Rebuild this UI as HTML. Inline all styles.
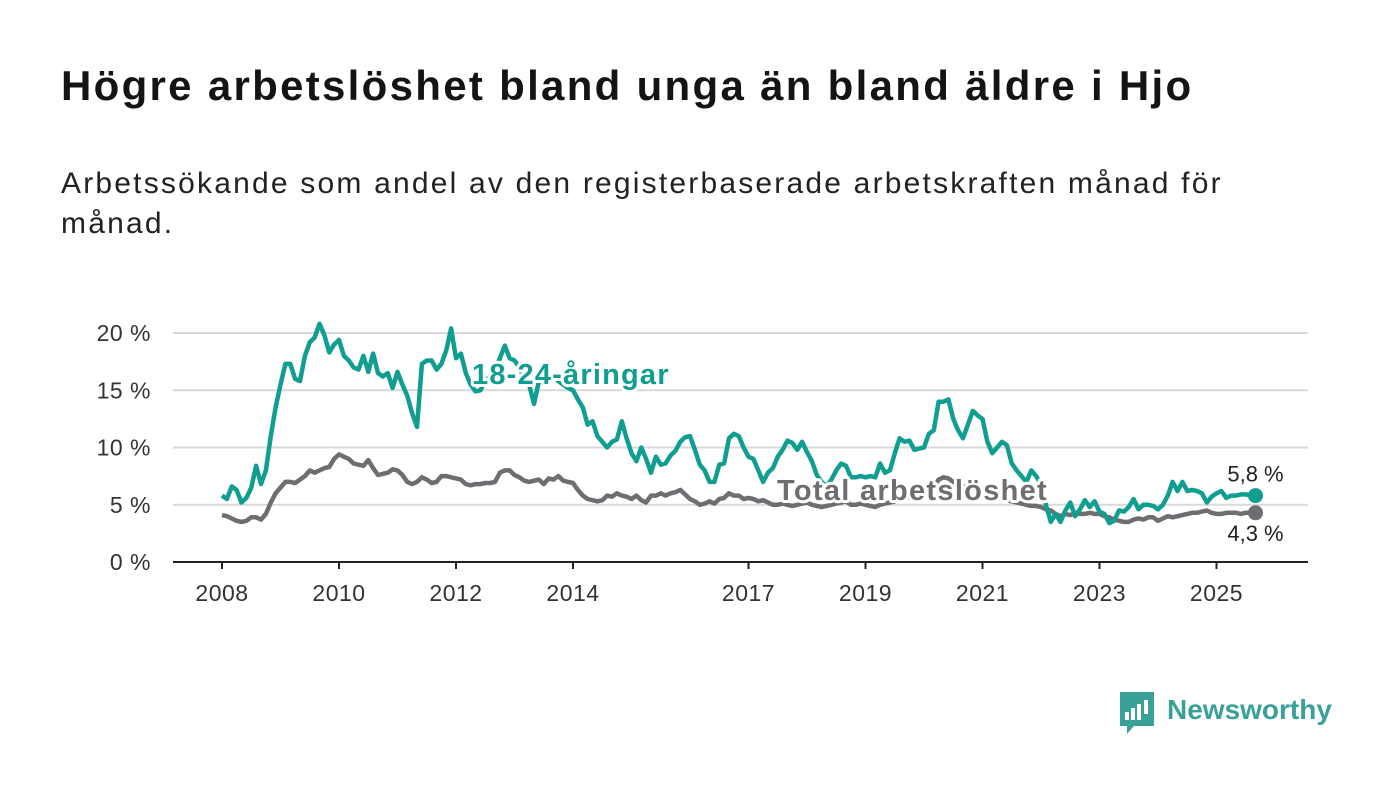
<!DOCTYPE html>
<html><head><meta charset="utf-8">
<style>
body{margin:0;background:#fff;width:1400px;height:794px;overflow:hidden;font-family:"Liberation Sans",sans-serif;}
#title{position:absolute;left:61px;top:62px;font-size:42px;letter-spacing:2.3px;font-weight:bold;color:#141414;margin:0;white-space:nowrap}
#sub{position:absolute;left:61px;top:164px;font-size:30px;letter-spacing:2.2px;line-height:40px;color:#222;width:1330px;margin:0;white-space:nowrap}
svg{position:absolute;left:0;top:0}
</style></head><body>
<h1 id="title">Högre arbetslöshet bland unga än bland äldre i Hjo</h1>
<p id="sub">Arbetssökande som andel av den registerbaserade arbetskraften månad för<br>månad.</p>
<svg id="chart" width="1400" height="794"></svg>
<script>
const yTicks=[0,5,10,15,20];
const yTickLabels=["0 %","5 %","10 %","15 %","20 %"];
const xTicks=[2008,2010,2012,2014,2017,2019,2021,2023,2025];
const startYear=2008;
const youth=[
5.8,5.5,6.6,6.3,5.2,5.6,6.5,8.4,6.8,8.0,11,13.5,
15.5,17.3,17.3,16.0,15.8,18.0,19.2,19.6,20.8,19.8,18.3,19.0,
19.4,18.0,17.6,17.0,16.8,18.0,16.6,18.2,16.5,16.2,16.5,15.2,
16.6,15.5,14.5,13.0,11.8,17.3,17.6,17.6,16.8,17.3,18.5,20.4,
17.8,18.2,16.5,15.5,14.9,15.0,15.8,16.2,16.8,17.8,18.9,17.8,
17.6,17.0,16.0,15.5,13.8,15.8,16.0,16.5,16.2,15.8,15.5,15.2,
15.0,14.2,13.5,12.0,12.3,11.0,10.5,10.0,10.5,10.7,12.3,10.8,
9.5,8.8,10.0,9.0,7.8,9.2,8.5,8.6,9.3,9.7,10.5,10.9,
11.0,9.8,8.5,8.0,7.0,7.0,8.5,8.6,10.8,11.2,11.0,10.0,
9.2,9.0,8.0,7.0,7.8,8.2,9.2,9.8,10.6,10.4,9.8,10.5,
9.6,8.8,7.6,7.0,6.6,7.2,8.0,8.6,8.4,7.4,7.4,7.5,
7.4,7.5,7.4,8.6,7.8,8.0,9.5,10.8,10.5,10.6,9.8,9.9,
10.0,11.2,11.5,14.0,14.0,14.2,12.5,11.5,10.8,12.0,13.2,12.8,
12.5,10.5,9.5,10.0,10.5,10.2,8.6,8.0,7.5,7.0,8.0,7.5,
6.8,5.0,3.5,4.2,3.5,4.5,5.2,4.0,4.6,5.4,4.8,5.3,
4.4,4.2,3.4,3.6,4.5,4.4,4.8,5.5,4.6,5.0,5.0,4.9,
4.6,5.0,5.8,7.0,6.2,7.0,6.2,6.3,6.2,6.0,5.2,5.7,
6.0,6.2,5.6,5.8,5.8,5.9,5.9,5.8,5.8];
const total=[
4.1,4.0,3.8,3.6,3.5,3.6,3.9,3.9,3.7,4.2,5.2,6.0,
6.5,7.0,7.0,6.9,7.2,7.5,8.0,7.8,8.0,8.2,8.3,9.0,
9.4,9.2,9.0,8.6,8.5,8.4,8.9,8.2,7.6,7.7,7.8,8.1,
8.0,7.6,7.0,6.8,7.0,7.4,7.2,6.9,7.0,7.5,7.5,7.4,
7.3,7.2,6.8,6.7,6.8,6.8,6.9,6.9,7.0,7.8,8.0,8.0,
7.6,7.4,7.1,7.0,7.1,7.2,6.8,7.3,7.2,7.5,7.1,7.0,
6.9,6.3,5.8,5.5,5.4,5.3,5.4,5.8,5.7,6.0,5.8,5.7,
5.5,5.8,5.4,5.2,5.8,5.8,6.0,5.8,6.0,6.1,6.3,5.9,
5.5,5.3,5.0,5.1,5.3,5.1,5.5,5.6,6.0,5.8,5.8,5.5,
5.6,5.5,5.3,5.4,5.2,5.0,5.0,5.1,5.0,4.9,5.0,5.1,
5.2,5.0,4.9,4.8,4.9,5.0,5.1,5.2,5.3,5.0,5.0,5.1,
5.0,4.9,4.8,5.0,5.1,5.2,5.3,5.5,5.6,5.7,5.8,5.9,
6.0,6.3,6.6,7.2,7.4,7.3,7.0,6.8,6.6,6.5,6.4,6.3,
6.2,6.0,5.8,5.7,5.5,5.4,5.3,5.2,5.1,5.0,4.9,4.9,
4.8,4.6,4.5,4.2,4.0,4.2,4.1,4.3,4.2,4.2,4.3,4.2,
4.2,4.0,3.9,3.7,3.6,3.5,3.5,3.7,3.8,3.7,3.9,3.9,
3.6,3.8,4.0,3.9,4.0,4.1,4.2,4.3,4.3,4.4,4.5,4.3,
4.2,4.2,4.3,4.3,4.3,4.2,4.3,4.3,4.3];

const NS="http://www.w3.org/2000/svg";
const svg=document.getElementById('chart');
const x0=222,pxYear=58.5,yZero=562,pxPct=11.45,left=173,right=1308;
function xs(i){return x0+i/12*pxYear;}
function xYear(y){return x0+(y-startYear)*pxYear;}
function ys(v){return yZero-v*pxPct;}
function mk(tag,attrs,parent){const e=document.createElementNS(NS,tag);for(const k in attrs)e.setAttribute(k,attrs[k]);(parent||svg).appendChild(e);return e;}

yTicks.forEach((t,i)=>{
  if(t>0){const g=mk('line',{x1:left,x2:right,y1:ys(t),y2:ys(t),stroke:'#d9d9d9','stroke-width':2});
  
  }
  const l=mk('text',{x:151,y:ys(t)+8,'text-anchor':'end','font-size':23,'letter-spacing':0.5,fill:'#333'});
  l.textContent=yTickLabels[i];
  
  
});
const ax=mk('line',{x1:left,x2:right,y1:yZero,y2:yZero,stroke:'#222','stroke-width':2});


xTicks.forEach(yr=>{
  const tk=mk('line',{x1:xYear(yr),x2:xYear(yr),y1:yZero,y2:yZero+7,stroke:'#222','stroke-width':2});
  
  
  const l=mk('text',{x:xYear(yr),y:601,'text-anchor':'middle','font-size':23,'letter-spacing':0.5,fill:'#333'});
  l.textContent=yr;
  
  
});
function path(arr){return arr.map((v,i)=>(i?'L':'M')+xs(i).toFixed(1)+','+ys(v).toFixed(1)).join('');}
const pt=mk('path',{d:path(total),fill:'none',stroke:'#6e6d72','stroke-width':4.5,'stroke-linejoin':'round'});


const py=mk('path',{d:path(youth),fill:'none',stroke:'#0f9e8f','stroke-width':4.5,'stroke-linejoin':'round'});



function label(txt,x,y,col,name,ls){
  const t=mk('text',{x:x,y:y,'font-size':29,'letter-spacing':ls,'font-weight':'bold',fill:col,stroke:'#fff','stroke-width':6,'paint-order':'stroke','stroke-linejoin':'round'});
  t.textContent=txt;
  
  
}
label('18-24-åringar',472,384,'#0f9e8f','youth-series-label',1.2);
label('Total arbetslöshet',777,500,'#6e6d72','total-series-label',1.3);

const ly=youth.length-1,lt=total.length-1;
const d1=mk('circle',{cx:xs(ly),cy:ys(youth[ly]),r:7.5,fill:'#0f9e8f'});


const d2=mk('circle',{cx:xs(lt),cy:ys(total[lt]),r:7.5,fill:'#6e6d72'});


const v1=mk('text',{x:xs(ly),y:ys(youth[ly])-14,'text-anchor':'middle','font-size':22,fill:'#222'});
v1.textContent=youth[ly].toFixed(1).replace('.',',')+' %';


const v2=mk('text',{x:xs(lt),y:ys(total[lt])+28,'text-anchor':'middle','font-size':22,fill:'#222'});
v2.textContent=total[lt].toFixed(1).replace('.',',')+' %';



const logo=mk('g',{});


mk('path',{d:'M1120,692h34v34h-20l-7,8v-8h-7z',fill:'#3aa198'},logo);
[[1125,712,4,8],[1131,708,4,12],[1137,704,4,16],[1144,700,4,14]].forEach(r=>mk('rect',{x:r[0],y:r[1],width:r[2],height:r[3],fill:'#fff'},logo));
const lt2=mk('text',{x:1167,y:719,'font-size':28,'font-weight':'bold',fill:'#3aa198'},logo);
lt2.textContent='Newsworthy';
</script>
</body></html>
